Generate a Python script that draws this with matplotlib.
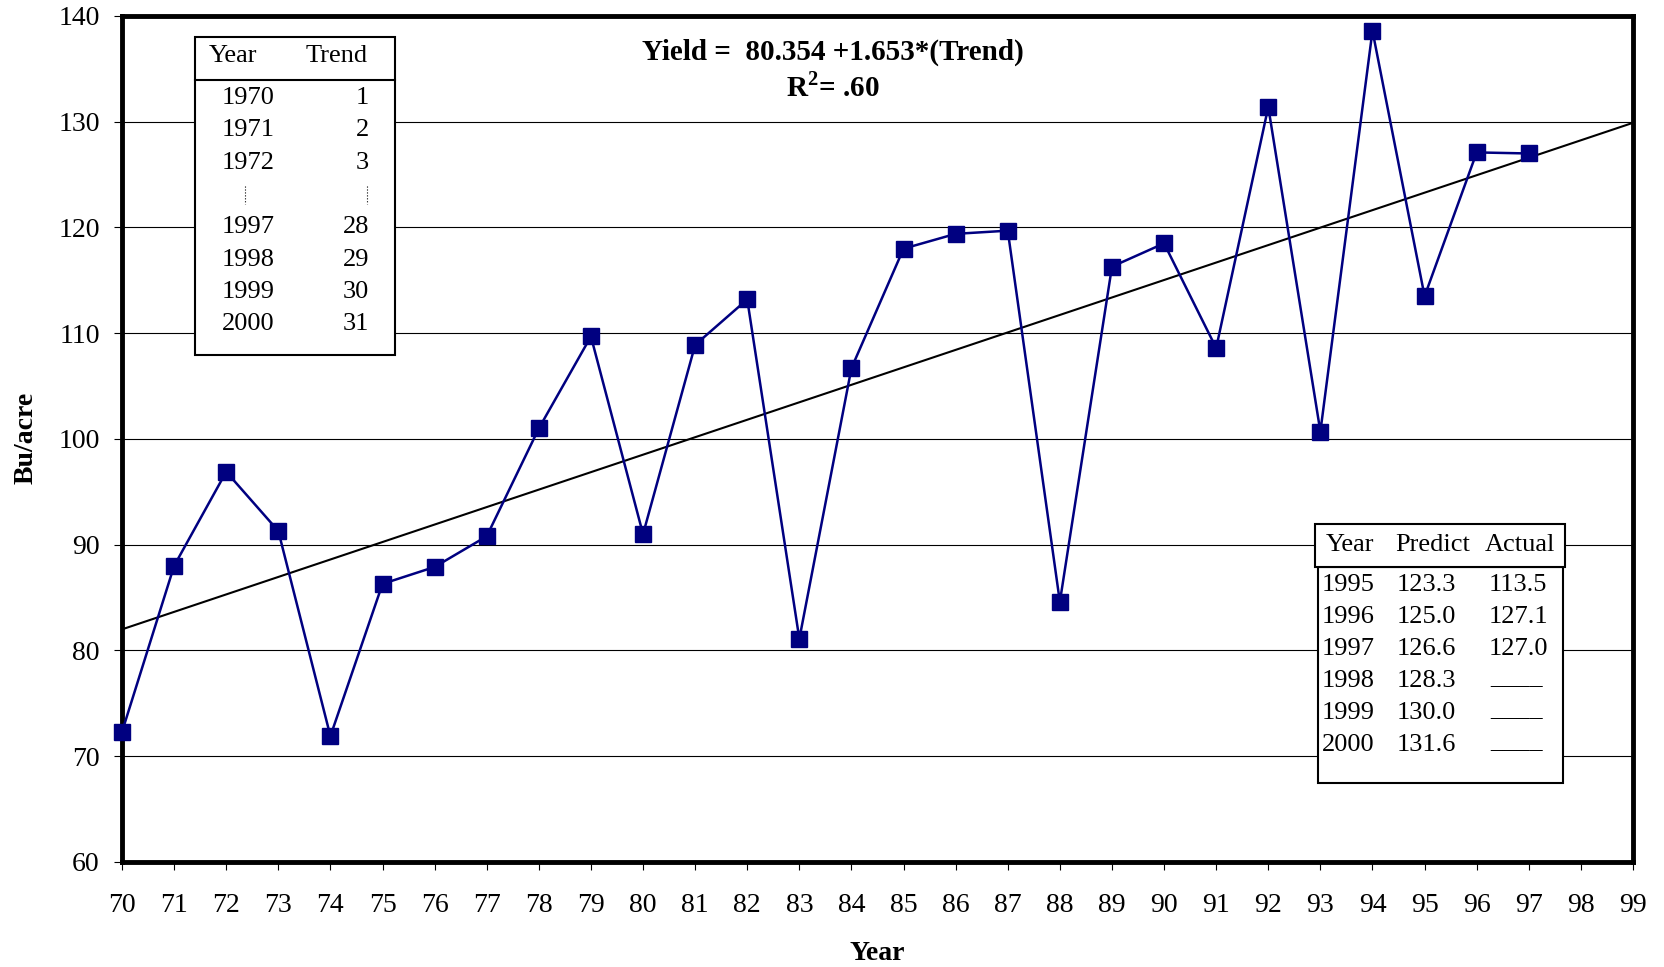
import matplotlib
matplotlib.use('Agg')
import matplotlib.pyplot as plt
from matplotlib.patches import Rectangle
from matplotlib.lines import Line2D

plt.rcParams['font.family'] = ['Liberation Serif', 'DejaVu Serif']
plt.rcParams['mathtext.fontset'] = 'custom'
plt.rcParams['mathtext.rm'] = 'Liberation Serif'
plt.rcParams['mathtext.bf'] = 'Liberation Serif:bold'

# yield data
years = list(range(70, 98))
yields = [72.3, 88.0, 96.9, 91.3, 71.9, 86.3, 87.9, 90.8, 101.0, 109.7,
          91.0, 108.9, 113.2, 81.1, 106.7, 118.0, 119.4, 119.7, 84.6, 116.3,
          118.5, 108.6, 131.4, 100.7, 138.6, 113.5, 127.1, 127.0]
trend_x = [70, 99]
trend_y = [82.0, 129.9]

# inset table contents
trend_years = ['1970', '1971', '1972', '', '1997', '1998', '1999', '2000']
trend_nums = ['1', '2', '3', '', '28', '29', '30', '31']
pred_years = ['1995', '1996', '1997', '1998', '1999', '2000']
pred_vals = ['123.3', '125.0', '126.6', '128.3', '130.0', '131.6']
actual_vals = ['113.5', '127.1', '127.0', '____', '____', '____']

W, H = 1665, 967
fig = plt.figure(figsize=(W / 100, H / 100), dpi=100)
ax = fig.add_axes([122 / W, 1 - 862 / H, (1633 - 122) / W, (862 - 16) / H])

ax.plot(trend_x, trend_y, color='black', lw=1.5, zorder=3)
ax.plot(years, yields, color='#000080', lw=1.8, marker='s', ms=11, zorder=4,
        clip_on=False)

ax.set_xlim(70, 99)
ax.set_ylim(60, 140)
ax.set_xticks(range(70, 100))
ax.set_yticks(range(60, 141, 10))
ax.yaxis.grid(True, color='black', lw=0.8)
ax.set_axisbelow(True)
for s in ax.spines.values():
    s.set_linewidth(3.5)
ax.tick_params(axis='both', labelsize=20, length=6, width=0.8, direction='out')
ax.tick_params(axis='x', pad=16)
ax.tick_params(axis='y', pad=10)

fig.text(26 / W, 1 - 438 / H, 'Bu/acre', rotation=90, ha='center', va='center',
         fontsize=20, fontweight='bold')
fig.text(877 / W, 1 - 953 / H, 'Year', ha='center', va='center',
         fontsize=20, fontweight='bold')

fig.text(833 / W, 1 - 52 / H, 'Yield =  80.354 +1.653*(Trend)', ha='center', va='center',
         fontsize=21, fontweight='bold')
fig.text(833 / W, 1 - 87 / H, r'R$^{\mathbf{2}}$= .60', ha='center', va='center',
         fontsize=21, fontweight='bold')


def px(x, y):
    return x / W, 1 - y / H


def box(x0, y0, x1, y1):
    fig.patches.append(Rectangle(px(x0, y1), (x1 - x0) / W, (y1 - y0) / H,
                                 transform=fig.transFigure, facecolor='white',
                                 edgecolor='black', lw=1.5, zorder=5))


def hline(x0, x1, y, **kw):
    fig.lines.append(Line2D([x0 / W, x1 / W], [1 - y / H, 1 - y / H],
                            transform=fig.transFigure, color='black', zorder=6, **kw))


def vline(x, y0, y1, **kw):
    fig.lines.append(Line2D([x / W, x / W], [1 - y0 / H, 1 - y1 / H],
                            transform=fig.transFigure, color='black', zorder=6, **kw))


def txt(x, y, s, ha='center', size=19):
    fig.text(*px(x, y), s, ha=ha, va='center', fontsize=size, zorder=7)


# left table: year -> trend index
box(195, 37, 395, 355)
hline(195, 395, 80, lw=1.5)
txt(233, 56, 'Year')
txt(337, 56, 'Trend')
for i, (yr, n) in enumerate(zip(trend_years, trend_nums)):
    yy = 98 + i * 32.3
    if yr == '':
        vline(245, yy - 9, yy + 9, lw=0.8, ls=':')
        vline(367, yy - 9, yy + 9, lw=0.8, ls=':')
        continue
    txt(248, yy, yr)
    txt(369, yy, n, ha='right')

# right table: predicted vs actual
box(1318, 567, 1563, 783)
box(1315, 524, 1565, 567)
txt(1350, 545, 'Year')
txt(1433, 545, 'Predict')
txt(1520, 545, 'Actual')
for i, (yr, p, a) in enumerate(zip(pred_years, pred_vals, actual_vals)):
    yy = 585 + i * 32
    txt(1322, yy, yr, ha='left')
    txt(1397, yy, p, ha='left')
    if a.startswith('_'):
        txt(1490, yy - 4, a, ha='left')
    else:
        txt(1489, yy, a, ha='left')

fig.savefig('out.png', dpi=100)
